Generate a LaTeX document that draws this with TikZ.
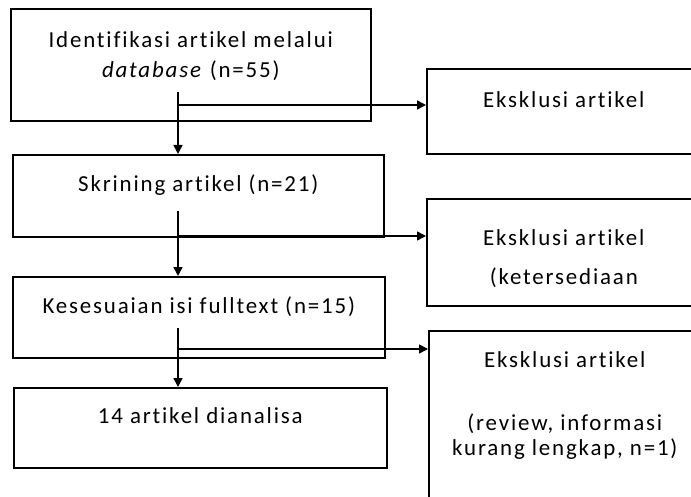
\documentclass[tikz,border=0pt]{standalone}
\usepackage{fontspec}
\setmainfont{Carlito}[LetterSpace=8, Ligatures={NoCommon}]
\usetikzlibrary{arrows.meta}
\begin{document}
\begin{tikzpicture}
	[
		x=1bp, y=-1bp,
		>={Triangle[length=9bp, width=9bp]},
		box/.style={draw, line width=1.6bp, anchor=north west, inner sep=0pt, align=center, font=\fontsize{23}{25}\selectfont},
		flow/.style={line width=1.6bp, ->},
	]
	\clip (0,0) rectangle (691,497);

	% Nodes (text height counted to the last line)
	\node[box, minimum width=360bp, text height=69bp, text depth=43bp] (ident) at (10,8)
		{Identifikasi artikel melalui\\[5bp]\textit{database} (n=55)};
	\node[box, minimum width=371bp, text height=37bp, text depth=45bp] (skrin) at (12,154)
		{Skrining artikel (n=21)};
	\node[box, minimum width=372bp, text height=37bp, text depth=44bp] (sesuai) at (12,276)
		{Kesesuaian isi fulltext (n=15)};
	\node[box, minimum width=373bp, text height=36bp, text depth=44bp] (hasil) at (13,387)
		{14 artikel dianalisa};
	\node[box, minimum width=274bp, text height=39bp, text depth=46bp] (eks1) at (426,68)
		{Eksklusi artikel};
	\node[box, minimum width=274bp, text height=86bp, text depth=21bp] (eks2) at (426,198)
		{Eksklusi artikel\\[14bp](ketersediaan};
	\node[box, minimum width=272bp, text height=125bp, text depth=80bp] (eks3) at (428,330)
		{Eksklusi artikel\\[38bp](review, informasi\\kurang lengkap, n=1)};

	% Branch points
	\foreach \name/\py in
	{
		ta/92, ba/105,
		tb/211, bb/236,
		tc/328, bc/349}
		\coordinate (\name) at (178,\py);

	% Edges
	\foreach \top/\bot/\nxt/\exc in
	{
		ta/ba/skrin/eks1,
		tb/bb/sesuai/eks2,
		tc/bc/hasil/eks3}
	{
		\draw[flow] (\top) -- (\top |- \nxt.north);
		\draw[flow] (\bot) -- (\bot -| \exc.west);
	}

\end{tikzpicture}
\end{document}
